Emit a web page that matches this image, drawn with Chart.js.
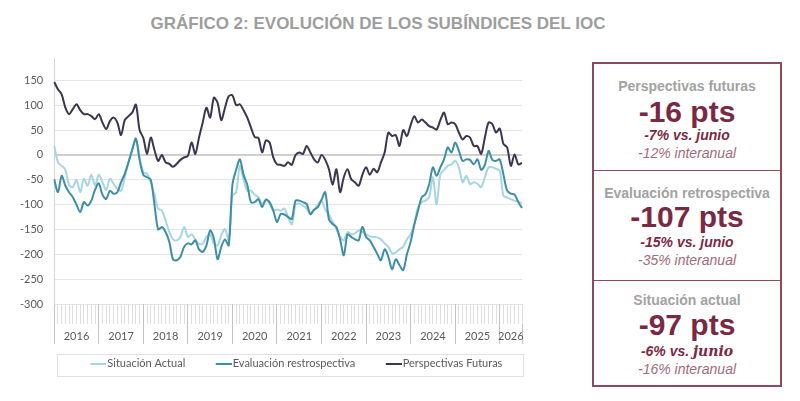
<!DOCTYPE html>
<html>
<head>
<meta charset="utf-8">
<script src="https://cdn.jsdelivr.net/npm/chart.js@4.4.1/dist/chart.umd.min.js"></script>
<style>
  body { margin: 0; width: 800px; height: 401px; background: #fff; overflow: hidden; position: relative; font-family: "Liberation Sans", Arial, sans-serif; }
  #title { position: absolute; left: 0; width: 756px; top: 14px; text-align: center; font-size: 17px; font-weight: bold; color: #9d9d9d; }
  #chartBox { position: absolute; left: 0; top: 40px; width: 540px; height: 339px; }
  #legendFrame { position: absolute; left: 57px; top: 354px; width: 465px; height: 21px; border: 1px solid #e2e2e2; }
  #panel { position: absolute; left: 592px; top: 62px; width: 186px; height: 321px; border: 2px solid #8d4a5a; }
  .sep { position: absolute; left: 0; width: 100%; height: 0; border-top: 1.5px solid #8d4a5a; }
  .t { position: absolute; left: 0; width: 100%; text-align: center; white-space: nowrap; line-height: 1; }
  .hd { font-size: 14px; font-weight: bold; color: #a2a2a2; }
  .big { font-size: 30px; font-weight: bold; color: #7a2944; }
  .m { font-size: 14px; font-weight: bold; font-style: italic; color: #7a2944; }
  .y { font-size: 14px; font-style: italic; color: #a26a7c; }
</style>
</head>
<body>
<div id="title">GRÁFICO 2: EVOLUCIÓN DE LOS SUBÍNDICES DEL IOC</div>
<div id="legendFrame"></div>
<div id="chartBox"><canvas id="ioc"></canvas></div>
<div id="panel">
  <div class="t hd" style="top:15px">Perspectivas futuras</div>
  <div class="t big" style="top:33px">-16 pts</div>
  <div class="t m" style="top:64px">-7% vs. junio</div>
  <div class="t y" style="top:82px">-12% interanual</div>
  <div class="sep" style="top:106px"></div>
  <div class="t hd" style="top:122px">Evaluación retrospectiva</div>
  <div class="t big" style="top:138px">-107 pts</div>
  <div class="t m" style="top:171px">-15% vs. junio</div>
  <div class="t y" style="top:189px">-35% interanual</div>
  <div class="sep" style="top:216px"></div>
  <div class="t hd" style="top:229px">Situación actual</div>
  <div class="t big" style="top:246px">-97 pts</div>
  <div class="t m" style="top:280px">-6% vs. <span style="font-family:'DejaVu Serif',serif">junio</span></div>
  <div class="t y" style="top:298px">-16% interanual</div>
</div>
<script>
// meses ene 2016 - jul 2026
const months = [];
for (let y = 2016; y <= 2026; y++) {
	for (let m = 1; m <= 12; m++) {
		if (y === 2026 && m > 7) break;
		months.push(y + '-' + String(m).padStart(2, '0'));
	}
}

const situacionActual = [
	18, -15, -22, -30, -60, -65, -50, -75, -48, -62, -40, -62,
	-40, -55, -70, -48, -58, -68, -72, -45, -15, 10, 30, -5,
	-35, -38, -55, -80, -108, -112, -132, -155, -170, -172, -165, -145,
	-165, -160, -170, -179, -179, -165, -160, -178, -182, -162, -149, -172,
	-82, -75, -22, -50, -72, -72, -80, -85, -99, -90, -98, -112,
	-110, -112, -108, -125, -140, -100, -98, -102, -108, -120, -112, -100,
	-92, -110, -120, -135, -149, -165, -172, -155, -160, -158, -152, -155,
	-160, -164, -165, -166, -170, -178, -185, -198, -196, -190, -185, -170,
	-160, -139, -105, -95, -92, -85, -45, -100, -39, -30, -22, -19,
	-12, -25, -55, -42, -59, -55, -58, -65, -45, -25, -25, -28,
	-32, -82, -86, -89, -92, -94, -97
];

const evaluacionRetro = [
	-49, -75, -42, -62, -75, -85, -100, -115, -95, -102, -92, -70,
	-57, -80, -89, -72, -78, -75, -55, -38, -15, 10, 33, -10,
	-40, -45, -50, -100, -150, -145, -155, -175, -210, -212, -205, -185,
	-178, -180, -172, -190, -195, -182, -152, -168, -210, -185, -170, -182,
	-60, -30, -9, -40, -60, -95, -95, -89, -105, -90, -95, -112,
	-135, -119, -120, -125, -129, -92, -92, -95, -99, -119, -110, -105,
	-90, -75, -130, -139, -145, -170, -202, -160, -165, -170, -172, -145,
	-165, -172, -185, -199, -212, -190, -205, -230, -210, -222, -232, -200,
	-175, -140, -112, -85, -79, -59, -25, -42, -25, -9, 15, 5,
	25, 8, -12, -9, -10, -19, -9, -30, -20, 8, -10, -12,
	-9, -40, -72, -78, -80, -95, -107
];

const perspectivasFuturas = [
	147, 132, 122, 95, 82, 92, 102, 90, 82, 82, 78, 72,
	82, 65, 52, 68, 75, 65, 40, 70, 78, 85, 101, 50,
	34, 2, 35, 10, -12, 0, -15, -18, -24, -18, -10, -5,
	-2, 25, 2, 35, 65, 95, 75, 115, 105, 70, 95, 118,
	120, 100, 102, 90, 75, 55, 36, 34, 5, 29, 25, -5,
	-19, -20, -22, -15, -20, 0, 5, 2, 18, 5, -9, -15,
	0, -10, -29, -60, -29, -75, -45, -29, -49, -55, -62, -40,
	-25, -40, -28, -35, -15, 5, 45, 38, 40, 18, 50, 38,
	60, 78, 65, 71, 65, 58, 55, 51, 70, 85, 62, 65,
	62, 45, 31, 38, 35, 18, 18, 2, 35, 65, 62, 45,
	53, 22, 15, -22, 1, -19, -16
];

const yTicks = [150, 100, 50, 0, -50, -100, -150, -200, -250, -300];
const yearLabels = ['2016', '2017', '2018', '2019', '2020', '2021', '2022', '2023', '2024', '2025', '2026'];

const lastIdx = months.length - 1;
// limites de cada año y su centro, en indices de mes
const yearBounds = yearLabels.map((y, k) => k * 12).concat([lastIdx]);
const yearMids = yearLabels.map((y, k) => (yearBounds[k] + yearBounds[k + 1]) / 2);

const colSit = '#a6d5e3';
const colEval = '#3f8ea5';
const colPersp = '#3b3550';

// muestra de linea para la leyenda (pegada al texto)
function legendLine(color) {
	const c = document.createElement('canvas');
	c.width = 37; c.height = 2;
	const g = c.getContext('2d');
	g.fillStyle = color;
	g.fillRect(21, 0, 16, 2);
	return c;
}

const tickFont = { family: 'Lato', size: 11 };

new Chart(document.getElementById('ioc'), {
	type: 'line',
	data: {
		labels: months,
		datasets: [
			{ label: 'Situación Actual', data: situacionActual, borderColor: colSit, backgroundColor: colSit, borderWidth: 2, pointRadius: 0, tension: 0.3, order: 3, pointStyle: legendLine(colSit) },
			{ label: 'Evaluación restrospectiva', data: evaluacionRetro, borderColor: colEval, backgroundColor: colEval, borderWidth: 2, pointRadius: 0, tension: 0.3, order: 2, pointStyle: legendLine(colEval) },
			{ label: 'Perspectivas Futuras', data: perspectivasFuturas, borderColor: colPersp, backgroundColor: colPersp, borderWidth: 2, pointRadius: 0, tension: 0.3, order: 1, pointStyle: legendLine(colPersp) }
		]
	},
	options: {
		responsive: true,
		maintainAspectRatio: false,
		animation: false,
		layout: { padding: { left: 9, right: 18, top: 18, bottom: 0 } },
		plugins: {
			legend: {
				position: 'bottom',
				fullSize: false,
				labels: {
					usePointStyle: true,
					pointStyleWidth: 28,
					padding: 14,
					color: '#595959',
					font: { family: 'Lato', size: 11 },
					sort: (a, b) => a.datasetIndex - b.datasetIndex
				}
			},
			tooltip: { enabled: false }
		},
		scales: {
			y: {
				min: -300,
				max: 195,
				afterBuildTicks: axis => { axis.ticks = yTicks.map(v => ({ value: v })); },
				ticks: { color: '#595959', font: tickFont, padding: 11 },
				grid: {
					drawTicks: false,
					color: ctx => ctx.tick && ctx.tick.value === 0 ? '#cfcfcf' : '#e4e4e4',
					lineWidth: ctx => ctx.tick && ctx.tick.value === 0 ? 2 : 1
				},
				border: { color: '#d4d4d4' }
			},
			x: {
				weight: 0,
				ticks: { display: false },
				grid: {
					drawOnChartArea: false,
					tickLength: 20,
					color: ctx => ctx.index % 12 === 0 ? '#c4c4c4' : '#dedede'
				},
				border: { display: false }
			},
			xYear: {
				type: 'linear',
				position: 'bottom',
				weight: 1,
				min: 0,
				max: lastIdx,
				afterBuildTicks: axis => {
					axis.ticks = yearBounds.concat(yearMids).sort((a, b) => a - b).map(v => ({ value: v }));
				},
				// etiquetas dentro de la franja de separadores
				afterFit: axis => { axis.height = 20; },
				ticks: {
					autoSkip: false,
					maxTicksLimit: 100,
					maxRotation: 0,
					padding: -14,
					color: '#595959',
					font: tickFont,
					callback: v => {
						const k = yearMids.indexOf(v);
						return k >= 0 ? yearLabels[k] : '';
					}
				},
				grid: {
					drawOnChartArea: false,
					tickLength: 20,
					color: ctx => ctx.tick && yearBounds.includes(ctx.tick.value) ? '#c4c4c4' : 'rgba(0,0,0,0)'
				},
				border: { display: false }
			}
		}
	}
});
</script>
</body>
</html>
